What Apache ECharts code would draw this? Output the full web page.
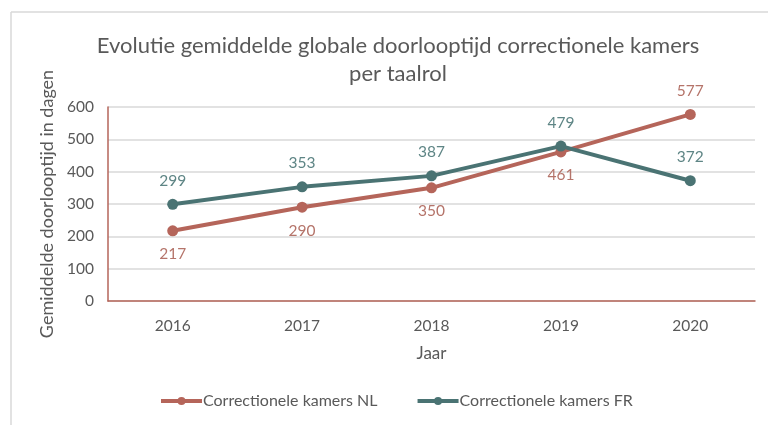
<!DOCTYPE html>
<html>
<head>
<meta charset="utf-8">
<script src="https://cdn.jsdelivr.net/npm/echarts@6/dist/echarts.min.js"></script>
<style>
html,body{margin:0;padding:0;background:#fff;}
#c{width:768px;height:425px;}
</style>
</head>
<body>
<div id="c"></div>
<script>
const categories = ['2016', '2017', '2018', '2019', '2020'];
const nlValues = [217, 290, 350, 461, 577];
const frValues = [299, 353, 387, 479, 372];
const nlLabelPos = ['bottom', 'bottom', 'bottom', 'bottom', 'top'];
const seriesNames = ['Correctionele kamers NL', 'Correctionele kamers FR'];
const titleText = 'Evolutie gemiddelde globale doorlooptijd correctionele kamers\nper taalrol';
const yAxisName = 'Gemiddelde doorlooptijd in dagen';
const xAxisName = 'Jaar';

const FONT = 'Lato';
const TXT = '#595959';
const NL = '#b5655a';
const FR = '#4a7373';

const chart = echarts.init(document.getElementById('c'));
chart.setOption({
  animation: false,
  textStyle: { fontFamily: FONT },
  title: {
    text: titleText,
    left: 393, textAlign: 'center', top: 27,
    textStyle: { fontFamily: FONT, fontSize: 22, fontWeight: 'normal', color: TXT, lineHeight: 28 }
  },
  graphic: [
    { type: 'line', shape: { x1: 11, y1: 12, x2: 768, y2: 12 }, style: { stroke: '#d9d9d9', lineWidth: 1.5 } },
    { type: 'line', shape: { x1: 11, y1: 12, x2: 11, y2: 425 }, style: { stroke: '#d9d9d9', lineWidth: 1.5 } }
  ],
  legend: {
    bottom: 11, left: 154,
    itemWidth: 41, itemHeight: 10, itemGap: 38,
    lineStyle: { width: 4 },
    textStyle: { fontFamily: FONT, fontSize: 16, color: TXT, padding: [0, 0, 0, -4] },
    data: seriesNames
  },
  grid: { left: 108, right: 13, top: 107, bottom: 124 },
  xAxis: {
    type: 'category', data: categories, boundaryGap: true,
    name: xAxisName, nameLocation: 'middle', nameGap: 44,
    nameTextStyle: { fontFamily: FONT, fontSize: 17, color: TXT },
    axisLine: { lineStyle: { color: NL, width: 1.5 } },
    axisTick: { show: false },
    axisLabel: { fontFamily: FONT, fontSize: 15.5, color: TXT, margin: 17 }
  },
  yAxis: {
    type: 'value', min: 0, max: 600, interval: 100,
    name: yAxisName, nameLocation: 'middle', nameGap: 29,
    nameTextStyle: { fontFamily: FONT, fontSize: 18, color: TXT },
    axisLine: { show: true, lineStyle: { color: NL, width: 1.5 } },
    axisTick: { show: false },
    splitLine: { lineStyle: { color: '#d9d9d9', width: 1.5 } },
    axisLabel: { fontFamily: FONT, fontSize: 15.5, color: TXT, margin: 14 }
  },
  series: [
    {
      name: seriesNames[0], type: 'line', data: nlValues.map((v, i) => ({
        value: v, label: { position: nlLabelPos[i] }
      })),
      symbol: 'circle', symbolSize: 11,
      lineStyle: { color: NL, width: 4 },
      itemStyle: { color: NL },
      label: { show: true, distance: 10, fontFamily: FONT, fontSize: 15.5, color: '#b5746a' },
      z: 2
    },
    {
      name: seriesNames[1], type: 'line', data: frValues,
      symbol: 'circle', symbolSize: 11,
      lineStyle: { color: FR, width: 4 },
      itemStyle: { color: FR },
      label: { show: true, position: 'top', distance: 10, fontFamily: FONT, fontSize: 15.5, color: '#5e8585' },
      z: 3
    }
  ]
});
</script>
</body>
</html>
